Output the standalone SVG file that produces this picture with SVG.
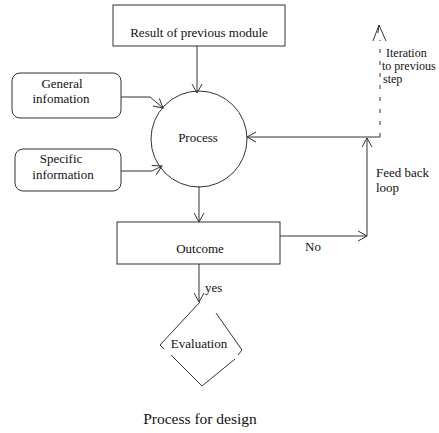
<svg xmlns="http://www.w3.org/2000/svg" width="439" height="433" viewBox="0 0 439 433">
<style>
.s{fill:none;stroke:#333;stroke-width:1}
.b{fill:#fff;stroke:#333;stroke-width:1}
text{font-family:"Liberation Serif","DejaVu Serif",serif;font-size:13px;fill:#111}
.m{text-anchor:middle}
.t{font-size:12px}
.d{stroke-dasharray:4 8}
</style>
<defs>
<marker id="a" markerUnits="userSpaceOnUse" viewBox="-10 -6 12 12" refX="0" refY="0" markerWidth="12" markerHeight="12" orient="auto">
<path d="M-9,-5 L0,0 L-9,5" fill="none" stroke="#333" stroke-width="1"/>
</marker>
</defs>
<rect width="439" height="433" fill="#fff"/>
<g id="connectors">
<line class="s" x1="197" y1="46" x2="197" y2="93" marker-end="url(#a)"/>
<polyline class="s" points="121,97 150,97 163,108" marker-end="url(#a)"/>
<polyline class="s" points="121,171 152,171 162,166" marker-end="url(#a)"/>
<line class="s" x1="380" y1="137" x2="247" y2="137" marker-end="url(#a)"/>
<line class="s" x1="199" y1="186" x2="199" y2="222" marker-end="url(#a)"/>
<line class="s" x1="280" y1="236" x2="367" y2="236" marker-end="url(#a)"/>
<line class="s" x1="367" y1="236" x2="367" y2="138" marker-end="url(#a)"/>
<line class="s d" x1="380" y1="137" x2="380" y2="40"/>
<path class="s" d="M373,41 L379,25 L386,41 M379,25 L378,33"/>
<line class="s" x1="199" y1="264" x2="199" y2="302" marker-end="url(#a)"/>
</g>
<g id="result">
<rect class="b" x="113" y="5" width="172" height="41"/>
<text class="m" x="199" y="37">Result of previous module</text>
</g>
<g id="general">
<rect class="b" x="12" y="73" width="109" height="45" rx="8"/>
<text class="m" x="62" y="88">General</text>
<text class="m" x="61" y="103">infomation</text>
</g>
<g id="specific">
<rect class="b" x="15" y="149" width="106" height="42" rx="8"/>
<text class="m" x="61" y="163">Specific</text>
<text class="m" x="63" y="179">information</text>
</g>
<g id="process">
<circle class="s" cx="199" cy="139" r="48"/>
<text class="m" x="198" y="142">Process</text>
</g>
<g id="outcome">
<rect class="b" x="117" y="222" width="163" height="42"/>
<text class="m" x="200" y="253">Outcome</text>
</g>
<g id="evaluation">
<path class="s" d="M200,302 L160,345 L164,349 M171,355 L202,386 L235,359 M238,355 L242,350 L216,313"/>
<text class="m" x="199" y="348">Evaluation</text>
</g>
<g id="labels">
<text x="305" y="251">No</text>
<text x="205" y="292">yes</text>
<text class="t" x="386" y="57">Iteration</text>
<text class="t" x="382" y="70">to previous</text>
<text class="t" x="383" y="83">step</text>
<text x="376" y="177">Feed back</text>
<text x="376" y="192">loop</text>
</g>
<text class="m" x="200" y="424" style="font-size:15.5px">Process for design</text>
</svg>
